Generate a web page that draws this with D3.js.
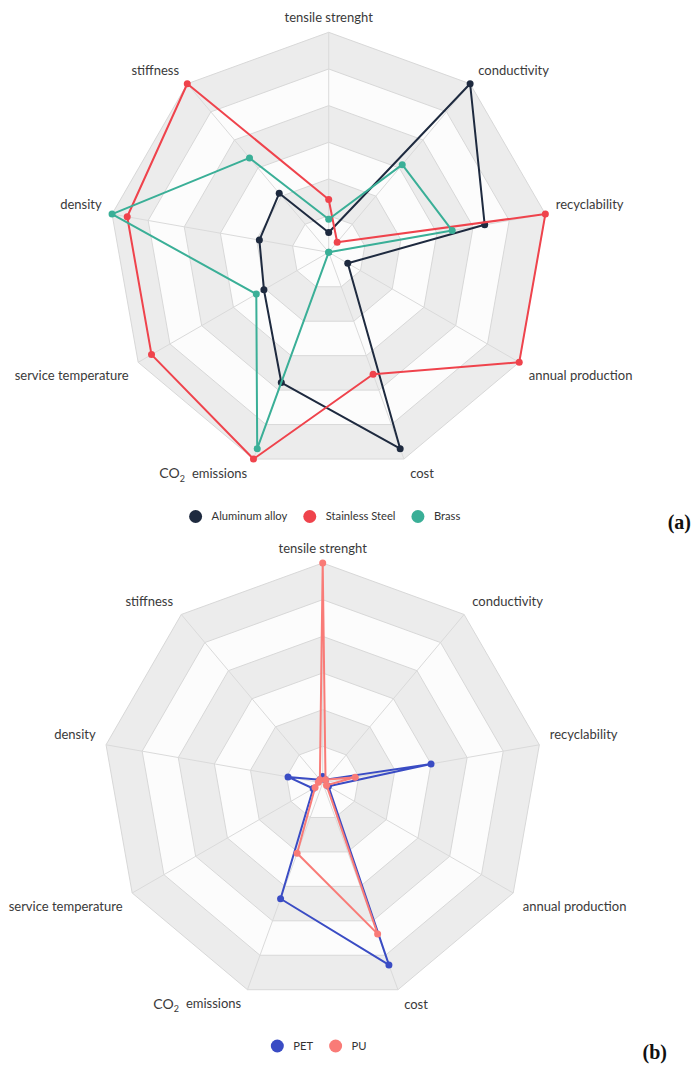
<!DOCTYPE html>
<html>
<head>
<meta charset="utf-8">
<script src="https://cdn.jsdelivr.net/npm/d3@7/dist/d3.min.js"></script>
<style>
  html, body { margin: 0; padding: 0; background: #ffffff; }
  svg { display: block; }
</style>
</head>
<body>
<svg id="figure" width="693" height="1068"></svg>
<script>
// Radar axes, clockwise from the top
const axes = [
  "tensile strenght", "conductivity", "recyclability", "annual production",
  "cost", "CO2 emissions", "service temperature", "density", "stiffness"
];

// Relative scores (0-100) per axis, in the order of `axes`
const metalNames = ["Aluminum alloy", "Stainless Steel", "Brass"];
const aluminumAlloy  = [9, 100, 72, 10, 95, 63, 34, 32, 35];
const stainlessSteel = [24, 6, 100, 100, 59, 100, 93, 93, 100];
const brass          = [15, 52, 57, 0, 0, 95, 38, 100, 56];

const polymerNames = ["PET", "PU"];
const pet = [3, 2, 50, 3, 88, 56, 5, 16, 2];
const pu  = [100, 2, 15, 2, 73, 34, 4, 2, 2];

const maxScore = 100;
const gridLevels = 6;

const metalColors   = ["#1e2a3f", "#ef434c", "#3aaf97"];
const polymerColors = ["#3a4cc4", "#f97b77"];

const svg = d3.select("#figure");
const labelFont = "Lato, 'Noto Sans', sans-serif";

function drawRadar(opts) {
  const { cx, cy, radius, names, series, colors, legendY, tag, tagRight, tagY } = opts;
  const n = axes.length;
  const angle = d3.scaleLinear().domain([0, n]).range([0, 2 * Math.PI]);
  const r = d3.scaleLinear().domain([0, maxScore]).range([0, radius]);
  const levelR = d3.scaleLinear().domain([0, gridLevels]).range([0, radius]);

  const g = svg.append("g").attr("transform", `translate(${cx},${cy})`);

  const ring = d3.lineRadial()
    .angle((d, i) => angle(i))
    .radius(d => d)
    .curve(d3.curveLinearClosed);

  // alternating bands, outermost first
  const levels = d3.range(gridLevels, 0, -1);
  g.selectAll("path.band").data(levels).join("path")
    .attr("class", "band")
    .attr("d", k => ring(axes.map(() => levelR(k))))
    .attr("fill", k => k % 2 === 0 ? "#ececec" : "#fcfcfc")
    .attr("stroke", "#d8d8d8")
    .attr("stroke-width", 1);

  // spokes
  g.selectAll("line.spoke").data(axes).join("line")
    .attr("class", "spoke")
    .attr("x1", 0).attr("y1", 0)
    .attr("x2", (d, i) => radius * Math.sin(angle(i)))
    .attr("y2", (d, i) => -radius * Math.cos(angle(i)))
    .attr("stroke", "#dadada")
    .attr("stroke-width", 1);

  // axis names
  const names_g = g.append("g").attr("font-family", labelFont)
    .attr("font-size", 13).attr("fill", "#3a3a3a");
  axes.forEach((name, i) => {
    const a = angle(i);
    const s = Math.sin(a), c = Math.cos(a);
    const vx = radius * s, vy = -radius * c;
    const side = Math.abs(s) < 1e-6 ? 0 : Math.sign(s);
    const dx = side * (4 + 6.5 * Math.abs(s));
    const dy = c > 0 ? -(9 + 5.5 * c) : (12 + 3 * Math.abs(c));
    const t = names_g.append("text")
      .attr("x", vx + dx)
      .attr("y", vy + dy)
      .attr("dy", "0.35em")
      .attr("text-anchor", side === 0 ? "middle" : side > 0 ? "start" : "end");
    if (name.startsWith("CO2")) {
      t.append("tspan").attr("font-size", 14).text("CO");
      t.append("tspan").attr("font-size", 9).attr("dy", "0.35em").text("2");
      t.append("tspan").attr("dy", "-0.3em").attr("dx", 7).text(name.slice(4));
    } else {
      t.text(name);
    }
  });

  // series outlines and points
  const line = d3.lineRadial()
    .angle((d, i) => angle(i))
    .radius(d => r(d))
    .curve(d3.curveLinearClosed);

  series.forEach((vals, si) => {
    const sg = g.append("g");
    sg.append("path")
      .attr("d", line(vals))
      .attr("fill", "none")
      .attr("stroke", colors[si])
      .attr("stroke-width", 2)
      .attr("stroke-linejoin", "round");
    sg.selectAll("circle").data(vals).join("circle")
      .attr("cx", (d, i) => r(d) * Math.sin(angle(i)))
      .attr("cy", (d, i) => -r(d) * Math.cos(angle(i)))
      .attr("r", 3.5)
      .attr("fill", colors[si]);
  });

  // legend, centred under the chart
  const lg = svg.append("g").attr("font-family", labelFont)
    .attr("font-size", 11.2).attr("fill", "#333");
  let x = 0;
  names.forEach((nm, i) => {
    lg.append("circle").attr("cx", x + 6.5).attr("cy", 0).attr("r", 6.5).attr("fill", colors[i]);
    const tx = lg.append("text").attr("x", x + 22.5).attr("y", 0).attr("dy", "0.35em").text(nm);
    const w = tx.node().getComputedTextLength();
    x += 22.5 + w + 16;
  });
  const total = x - 16;
  lg.attr("transform", `translate(${cx - 4 - total / 2},${legendY})`);

  // panel tag
  svg.append("text")
    .attr("x", tagRight).attr("y", tagY).attr("dy", "0.35em")
    .attr("text-anchor", "end")
    .attr("font-family", "'Liberation Serif', 'Times New Roman', serif")
    .attr("font-weight", "bold")
    .attr("font-size", 20)
    .attr("fill", "#111")
    .text(tag);
}

drawRadar({
  cx: 328.7, cy: 252.3, radius: 220,
  names: metalNames,
  series: [aluminumAlloy, stainlessSteel, brass],
  colors: metalColors,
  legendY: 516.5, tag: "(a)", tagRight: 691, tagY: 522
});

drawRadar({
  cx: 322.7, cy: 783, radius: 220,
  names: polymerNames,
  series: [pet, pu],
  colors: polymerColors,
  legendY: 1046, tag: "(b)", tagRight: 667, tagY: 1052
});
</script>
</body>
</html>
